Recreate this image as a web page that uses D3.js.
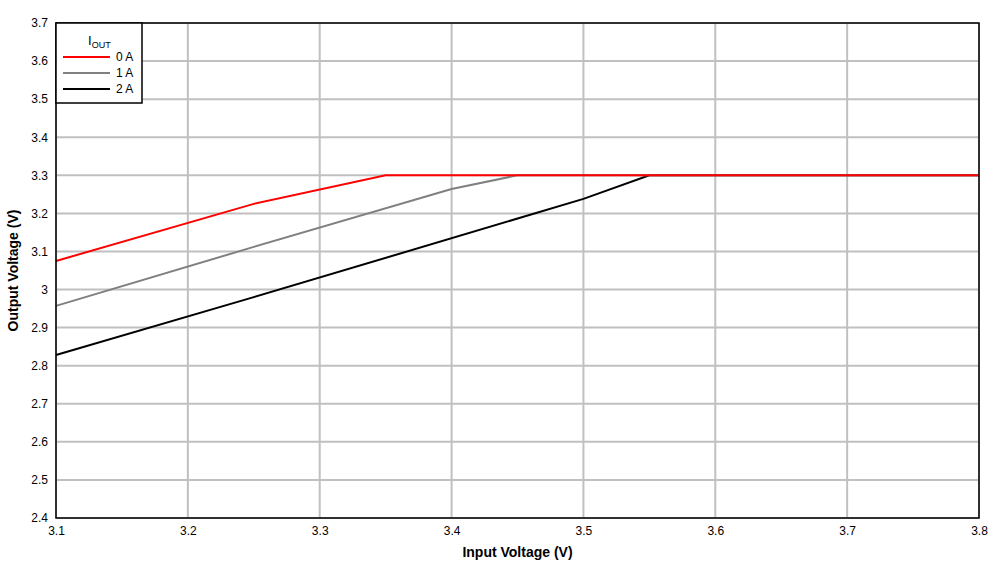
<!DOCTYPE html>
<html><head><meta charset="utf-8">
<script src="https://cdn.jsdelivr.net/npm/d3@7"></script>
<style>body{margin:0;background:#fff;font-family:"Liberation Sans",Arial,sans-serif}</style>
</head><body><svg id="c" width="1006" height="570"></svg>
<script>
const xTicks=[3.1,3.2,3.3,3.4,3.5,3.6,3.7,3.8];
const yTicks=[2.4,2.5,2.6,2.7,2.8,2.9,3,3.1,3.2,3.3,3.4,3.5,3.6,3.7];
const seriesNames=["0 A","1 A","2 A"];
const seriesColors=["#ff0000","#808080","#000000"];
const x0A=[3.1,3.25,3.35,3.8], y0A=[3.075,3.225,3.3,3.3];
const x1A=[3.1,3.25,3.4,3.45,3.8], y1A=[2.957,3.112,3.264,3.3,3.3];
const x2A=[3.1,3.25,3.5,3.55,3.8], y2A=[2.828,2.98,3.238,3.3,3.3];
const series=[[x0A,y0A],[x1A,y1A],[x2A,y2A]];

const svg=d3.select("#c");
const L=56,R=979,T=23,B=518;
const x=d3.scaleLinear().domain([3.1,3.8]).range([L,R]);
const y=d3.scaleLinear().domain([2.4,3.7]).range([B,T]);
const g=svg.append("g");
g.selectAll(".vx").data(xTicks).join("line").attr("x1",d=>x(d)).attr("x2",d=>x(d)).attr("y1",T).attr("y2",B).attr("stroke","#c0c0c0").attr("stroke-width",2);
g.selectAll(".hy").data(yTicks).join("line").attr("y1",d=>y(d)).attr("y2",d=>y(d)).attr("x1",L).attr("x2",R).attr("stroke","#c0c0c0").attr("stroke-width",2);
const line=d3.line().x(d=>x(d[0])).y(d=>y(d[1]));
series.slice().reverse().forEach((s,i)=>{
  const idx=2-i;
  svg.append("path").datum(s[0].map((v,k)=>[v,s[1][k]])).attr("d",line).attr("fill","none").attr("stroke",seriesColors[idx]).attr("stroke-width",2);
});
// redraw order: red at top visible? draw red last over others where overlapping
svg.append("rect").attr("x",L).attr("y",T).attr("width",R-L).attr("height",B-T).attr("fill","none").attr("stroke","#000").attr("stroke-width",1.5);
const xa=svg.append("g").attr("transform",`translate(0,${B})`).call(d3.axisBottom(x).tickValues(xTicks).tickSize(0).tickPadding(8).tickFormat(d3.format("")));
const ya=svg.append("g").attr("transform",`translate(${L},0)`).call(d3.axisLeft(y).tickValues(yTicks).tickSize(0).tickPadding(8).tickFormat(d3.format("")));
[xa,ya].forEach(a=>{a.select(".domain").remove();a.selectAll("text").attr("font-size",12).attr("font-family","Liberation Sans, Arial").attr("fill","#000");});
svg.append("text").attr("x",(L+R)/2).attr("y",557).attr("text-anchor","middle").attr("font-size",14).attr("font-weight","bold").text("Input Voltage (V)");
svg.append("text").attr("transform",`translate(18,${(T+B)/2}) rotate(-90)`).attr("text-anchor","middle").attr("font-size",14).attr("font-weight","bold").text("Output Voltage (V)");
// legend
const lg=svg.append("g");
lg.append("rect").attr("x",L).attr("y",T).attr("width",86).attr("height",80).attr("fill","#fff").attr("stroke","#000").attr("stroke-width",1.5);
const t=lg.append("text").attr("x",88).attr("y",45).attr("font-size",13);
t.append("tspan").text("I");
t.append("tspan").attr("font-size",9).attr("dy",3).text("OUT");
seriesNames.forEach((n,i)=>{
  const yy=57+i*16;
  lg.append("line").attr("x1",63).attr("x2",110).attr("y1",yy).attr("y2",yy).attr("stroke",seriesColors[i]).attr("stroke-width",2);
  lg.append("text").attr("x",116).attr("y",yy+4).attr("font-size",12).text(n);
});
</script></body></html>
